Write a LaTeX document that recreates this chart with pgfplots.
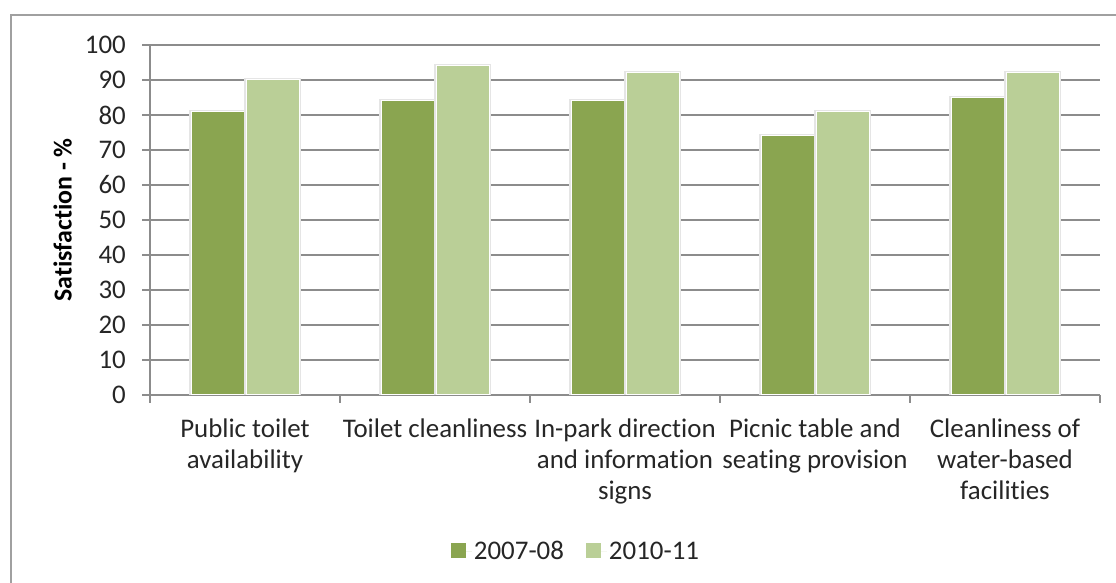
\documentclass[border=0pt]{standalone}
\usepackage{pgfplots}
\pgfplotsset{compat=1.18}
\usepackage{fontspec}
\setmainfont[Ligatures=NoCommon]{Carlito}
\definecolor{darkg}{HTML}{8AA550}
\definecolor{lightg}{HTML}{BACF97}
\definecolor{gridg}{HTML}{8C8C8C}
\definecolor{frameg}{HTML}{A0A0A0}
\begin{document}
\begin{tikzpicture}[x=1bp,y=1bp]
\path[use as bounding box] (0,0) rectangle (1116,583);
\draw[frameg, line width=2bp] (11,-10) -- (11,568) -- (1130,568);
\begin{axis}[
  at={(150bp,188bp)}, anchor=south west,
  scale only axis, width=950bp, height=350bp,
  ymin=0, ymax=100, ytick={0,10,...,100},
  xmin=0.5, xmax=5.5,
  xtick={0.5,1.5,...,5.5}, xticklabels={},
  extra x ticks={1,2,3,4,5},
  extra x tick labels={{Public toilet\\availability},{Toilet cleanliness},{In-park direction\\and information\\signs},{Picnic table and\\seating provision},{Cleanliness of\\water-based\\facilities}},
  extra x tick style={major tick length=0pt, grid=none},
  axis x line*=bottom, axis y line*=left,
  axis line style={gridg, line width=1.2bp, -},
  tick align=outside, major tick length=8bp,
  tick style={gridg, line width=1.2bp},
  ymajorgrids, grid style={gridg, line width=1.2bp},
  /pgf/number format/assume math mode=true,
  ticklabel style={font=\fontsize{27}{31}\selectfont, text=black!85},
  yticklabel style={inner sep=0pt, xshift=-16bp},
  xticklabel style={align=center, inner sep=0pt, anchor=north, yshift=-24bp},
  ylabel={Satisfaction - \%},
  ylabel style={font=\fontsize{26}{31}\selectfont\bfseries, at={(axis description cs:-0.092,0.5)}, anchor=center},
  ybar, bar width=53bp,
  legend style={at={(axis description cs:0.4484,-0.446)}, anchor=center, draw=none, font=\fontsize{27}{31}\selectfont, text=black!85, legend columns=2, /tikz/every even column/.append style={column sep=20bp}, /tikz/every odd column/.append style={column sep=0bp}},
  legend image code/.code={\fill[#1] (0bp,-7bp) rectangle (15bp,8bp); \path (0bp,0bp) -- (21bp,0bp);},
]
\addlegendimage{fill=darkg, draw=none}
\addlegendimage{fill=lightg, draw=none}
\addplot[forget plot, bar shift=-27.5bp, fill=darkg, draw=white, line width=1bp, preaction={draw=black!10, line width=3.5bp}] coordinates {(1,81) (2,84) (3,84) (4,74) (5,85)};
\addplot[forget plot, bar shift=27.5bp, fill=lightg, draw=white, line width=1bp, preaction={draw=black!10, line width=3.5bp}] coordinates {(1,90) (2,94) (3,92) (4,81) (5,92)};
\legend{2007-08,2010-11}
\end{axis}
\end{tikzpicture}
\end{document}
